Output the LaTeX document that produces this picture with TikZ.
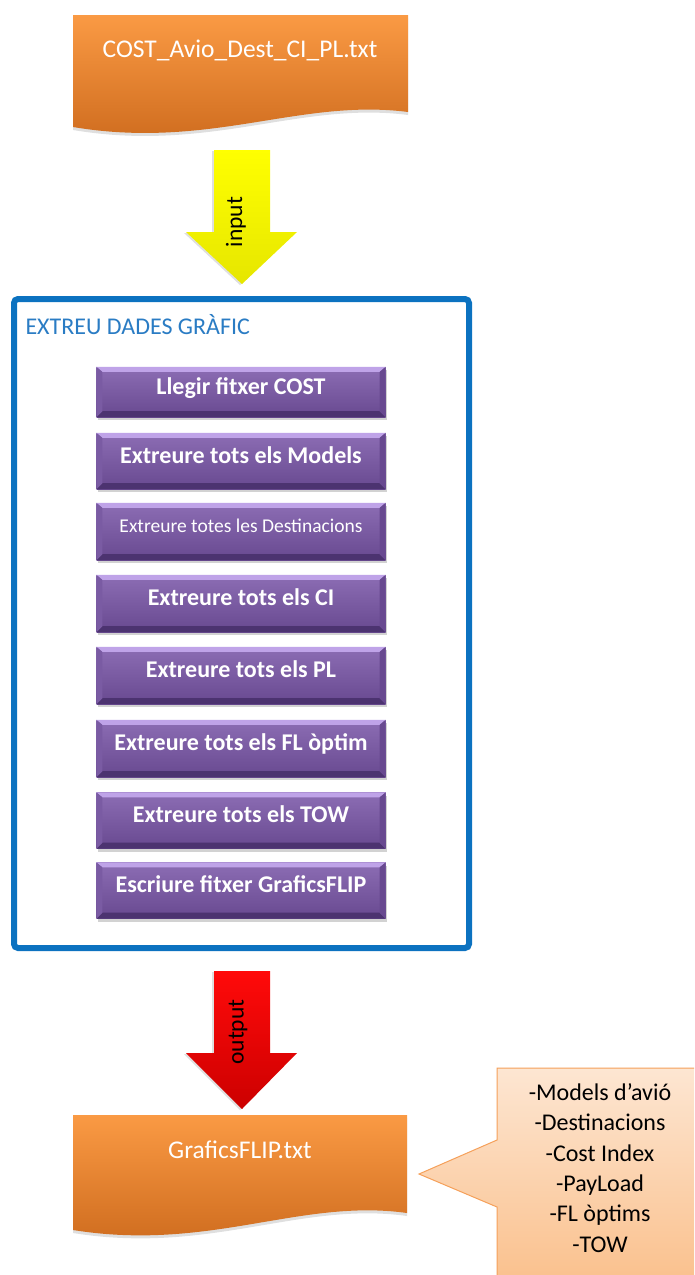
\documentclass[tikz,border=0pt]{standalone}
\usepackage{fontspec}
\setmainfont{Carlito}
\usetikzlibrary{calc,shadows}

\definecolor{docTop}{HTML}{FA9A44}
\definecolor{docBot}{HTML}{CC691C}
\definecolor{frameBlue}{HTML}{0C72C0}
\definecolor{titleBlue}{HTML}{2A7CC4}
\definecolor{purpTop}{HTML}{8C6DB4}
\definecolor{purpBot}{HTML}{684990}
\definecolor{purpLight}{HTML}{BFA3E8}
\definecolor{purpDark}{HTML}{4C3370}
\definecolor{purpSide}{HTML}{7A5BA3}
\definecolor{noteTop}{HTML}{FDE6D2}
\definecolor{noteBot}{HTML}{FAC08C}
\definecolor{noteLine}{HTML}{F5A05A}
\definecolor{arrowYellow}{HTML}{FFFF00}
\definecolor{arrowYellowDk}{HTML}{E6E600}
\definecolor{arrowRed}{HTML}{FF0A0A}
\definecolor{arrowRedDk}{HTML}{CC0000}

\tikzset{
  procbox/.style={rectangle, minimum width=289pt, inner sep=0pt,
    top color=purpTop, bottom color=purpBot, text=white,
    text height=16pt, text depth=12pt,
    font=\bfseries\fontsize{24}{28}\selectfont,
    drop shadow={shadow xshift=1pt, shadow yshift=-3pt, opacity=.35}},
  doctext/.style={text=white, font=\fontsize{25.5}{30}\selectfont},
  docshape/.style={top color=docTop, bottom color=docBot,
    drop shadow={shadow xshift=0pt, shadow yshift=-3pt, opacity=.25}},
  framebox/.style={rectangle, draw=frameBlue, fill=white, line width=6pt,
    rounded corners=4pt, minimum width=455pt, minimum height=649pt,
    drop shadow={shadow xshift=1pt, shadow yshift=-2pt, opacity=.2}},
  arrowlabel/.style={rotate=90, text=black, font=\fontsize{23.5}{26}\selectfont},
  notetext/.style={align=center, text=black, font=\fontsize{24}{30.4}\selectfont},
}

% bevelled edges of a process box
\newcommand\procbevel[1]{%
  \fill[purpLight] (#1.north west) -- (#1.north east) -- ($(#1.north east)+(-6,5)$) -- ($(#1.north west)+(6,5)$) -- cycle;
  \fill[purpDark] (#1.south west) -- (#1.south east) -- ($(#1.south east)+(-6,-6)$) -- ($(#1.south west)+(6,-6)$) -- cycle;
  \fill[purpSide] (#1.north west) -- ($(#1.north west)+(6,5)$) -- ($(#1.south west)+(6,-6)$) -- (#1.south west) -- cycle;
  \fill[purpBot] (#1.north east) -- ($(#1.north east)+(-6,5)$) -- ($(#1.south east)+(-6,-6)$) -- (#1.south east) -- cycle;
}

\begin{document}
\begin{tikzpicture}[x=1pt, y=-1pt]
\useasboundingbox (0,0) rectangle (694,1275);
\clip (0,0) rectangle (694,1275);

% source file
\path[docshape] (73,15) -- (408,15) -- (408,112)
  .. controls (300,98) and (210,150) .. (73,127) -- cycle;
\node[doctext] (src) at (240,50) {COST\_Avio\_Dest\_CI\_PL.txt};

% extraction frame
\node[framebox] (frame) at (241.5,623.5) {};
\node[anchor=west, text=titleBlue, font=\fontsize{24}{28}\selectfont] (title) at (22,325) {EXTREU DADES GRÀFIC};

% input arrow
\coordinate (inTop) at ($(src.south)+(2,86)$);
\coordinate (inTip) at ($(frame.north)+(0.5,-12)$);
\path[top color=arrowYellow, bottom color=arrowYellowDk,
  drop shadow={shadow xshift=-2pt, shadow yshift=-1pt, opacity=.25}]
  ($(inTop)+(-28,0)$) -- ($(inTop)+(28,0)$) -- ($(inTop)+(28,82)$) -- ($(inTop)+(55,82)$)
  -- (inTip) -- ($(inTop)+(-56,82)$) -- ($(inTop)+(-28,82)$) -- cycle;
\node[arrowlabel] (inlbl) at (236,222) {input};

% process steps
\node[procbox, minimum height=50pt] (p1) at (241,392) {Llegir fitxer COST};
\node[procbox, minimum height=56pt] (p2) at (241,461) {Extreure tots els Models};
\node[procbox, minimum height=57pt, font=\fontsize{19.5}{22}\selectfont, text height=13pt, text depth=12pt] (p3) at (241,531.5) {Extreure totes les Destinacions};
\node[procbox, minimum height=57pt] (p4) at (241,603.5) {Extreure tots els CI};
\node[procbox, minimum height=57pt] (p5) at (241,675.5) {Extreure tots els PL};
\node[procbox, minimum height=57pt] (p6) at (241,748.5) {Extreure tots els FL òptim};
\node[procbox, minimum height=56pt] (p7) at (241,820.5) {Extreure tots els TOW};
\node[procbox, minimum height=56pt] (p8) at (241,890.5) {Escriure fitxer GraficsFLIP};
\foreach \b in {p1,p2,p3,p4,p5,p6,p7,p8} {\procbevel{\b}}

% output arrow
\coordinate (outTop) at ($(frame.south)+(0.5,20)$);
\path[top color=arrowRed, bottom color=arrowRedDk,
  drop shadow={shadow xshift=-2pt, shadow yshift=-1pt, opacity=.25}]
  ($(outTop)+(-28,0)$) -- ($(outTop)+(28,0)$) -- ($(outTop)+(28,82)$) -- ($(outTop)+(55,82)$)
  -- ($(outTop)+(0,138)$) -- ($(outTop)+(-56,82)$) -- ($(outTop)+(-28,82)$) -- cycle;
\node[arrowlabel] (outlbl) at (238,1032) {output};

% result file
\path[docshape] (73,1115) -- (407,1115) -- (407,1213)
  .. controls (300,1198) and (210,1252) .. (73,1230) -- cycle;
\node[doctext] (dst) at (240,1150) {GraficsFLIP.txt};

% callout listing the file contents
\path[top color=noteTop, bottom color=noteBot, draw=noteLine, line width=1pt]
  (497,1068) -- (700,1068) -- (700,1285) -- (497,1285) -- (497,1207)
  -- (419,1174) -- (497,1140) -- cycle;
\node[notetext] (notes) at (600,1168) {-Models d’avió\\-Destinacions\\-Cost Index\\-PayLoad\\-FL òptims\\-TOW};
\end{tikzpicture}
\end{document}
